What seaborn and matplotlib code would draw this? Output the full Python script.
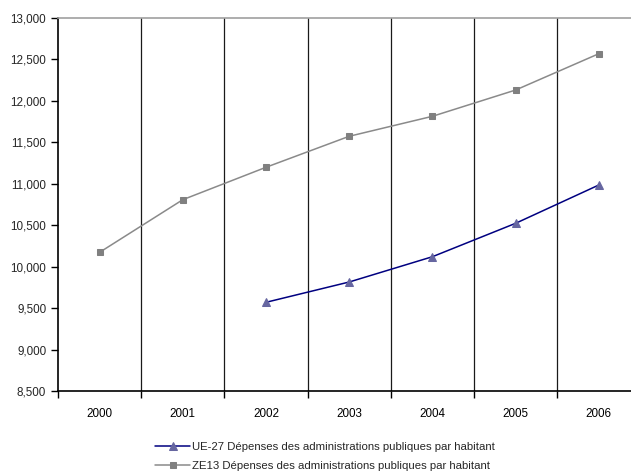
import numpy as np
import pandas as pd
import matplotlib
matplotlib.use("Agg")
import matplotlib.pyplot as plt
from matplotlib.ticker import FuncFormatter, FixedLocator, NullFormatter
import seaborn as sns

sns.set_style("white")
plt.rcParams["font.family"] = ["Liberation Sans", "DejaVu Sans"]

years = ["2000", "2001", "2002", "2003", "2004", "2005", "2006"]
ue27_years = ["2002", "2003", "2004", "2005", "2006"]
ue27_values = [9570, 9815, 10120, 10523, 10985]
ze13_values = [10173, 10808, 11199, 11573, 11814, 12131, 12569]

ue27_label = "UE-27 Dépenses des administrations publiques par habitant"
ze13_label = "ZE13 Dépenses des administrations publiques par habitant"

pos = {y: i for i, y in enumerate(years)}
df_ue = pd.DataFrame({"x": [pos[y] for y in ue27_years], "v": ue27_values})
df_ze = pd.DataFrame({"x": [pos[y] for y in years], "v": ze13_values})

fig = plt.figure(figsize=(6.31, 4.74), dpi=100)
ax = fig.add_axes([58 / 631, 83 / 474, 582.4 / 631, 373 / 474])

sns.lineplot(data=df_ue, x="x", y="v", ax=ax, color="#000080", lw=1.1,
             marker="^", markersize=6, markerfacecolor="#6666a0",
             markeredgecolor="#6666a0", label=ue27_label)
sns.lineplot(data=df_ze, x="x", y="v", ax=ax, color="#8a8a8a", lw=1.1,
             marker="s", markersize=4.5, markerfacecolor="#808080",
             markeredgecolor="#808080", label=ze13_label)

ax.set_xlim(-0.5, len(years) - 0.5)
ax.set_ylim(8500, 13000)

# category boundaries carry the ticks and vertical lines; labels sit at centres
bounds = np.arange(len(years) + 1) - 0.5
ax.xaxis.set_major_locator(FixedLocator(bounds))
ax.xaxis.set_major_formatter(NullFormatter())
ax.xaxis.set_minor_locator(FixedLocator(np.arange(len(years))))
ax.set_xticklabels(years, minor=True)
ax.tick_params(axis="x", which="major", direction="out", length=5, width=1,
               color="#000000", bottom=True)
ax.tick_params(axis="x", which="minor", length=0, labelsize=8.4, pad=12,
               labelcolor="#000000")
for b in bounds[1:-1]:
    ax.axvline(b, color="#1a1a1a", lw=0.9, zorder=0)

ax.set_yticks(np.arange(8500, 13001, 500))
ax.yaxis.set_major_formatter(FuncFormatter(lambda v, p: f"{int(v):,}"))
ax.tick_params(axis="y", direction="out", length=5, width=1, color="#000000",
               labelsize=8.4, left=True, pad=3.5)

ax.set_xlabel("")
ax.set_ylabel("")
for side in ["left", "bottom"]:
    ax.spines[side].set_color("#000000")
    ax.spines[side].set_linewidth(1.2)
ax.spines["top"].set_color("#a0a0a0")
ax.spines["top"].set_linewidth(1.2)
ax.spines["right"].set_visible(False)

handles, labels = ax.get_legend_handles_labels()
ax.get_legend().remove()
fig.legend(handles, labels, loc="upper center", bbox_to_anchor=(325 / 631, 1 - 436 / 474),
           frameon=False, fontsize=8.2, handlelength=3.1, handletextpad=0.15,
           labelspacing=0.8, borderpad=0)

fig.savefig("out.png", dpi=100)
